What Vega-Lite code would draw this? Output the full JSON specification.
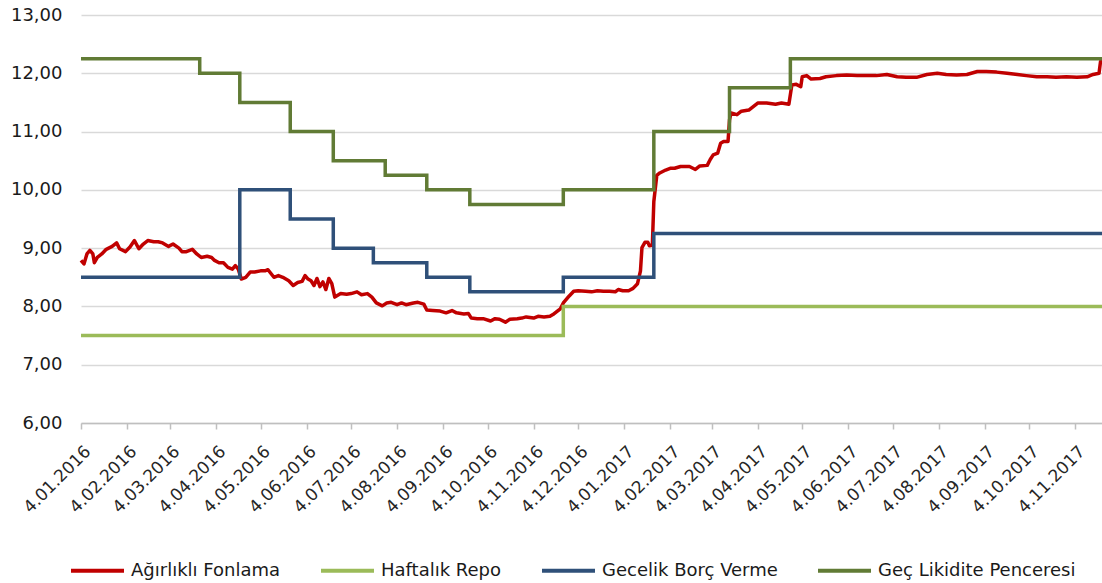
{
  "$schema": "https://vega.github.io/schema/vega-lite/v6.json",
  "autosize": "none",
  "width": 1021,
  "height": 408,
  "padding": {"left": 81, "top": 15, "right": 0, "bottom": 160},
  "background": "white",
  "config": {
    "view": {"stroke": null},
    "font": "DejaVu Sans"
  },
  "datasets": {
    "red": [
      {"s":"Ağırlıklı Fonlama","d":"2016-01-04","v":8.79},{"s":"Ağırlıklı Fonlama","d":"2016-01-06","v":8.73},{"s":"Ağırlıklı Fonlama","d":"2016-01-08","v":8.90},{"s":"Ağırlıklı Fonlama","d":"2016-01-10","v":8.96},{"s":"Ağırlıklı Fonlama","d":"2016-01-12","v":8.90},{"s":"Ağırlıklı Fonlama","d":"2016-01-13","v":8.75},{"s":"Ağırlıklı Fonlama","d":"2016-01-15","v":8.84},{"s":"Ağırlıklı Fonlama","d":"2016-01-18","v":8.90},{"s":"Ağırlıklı Fonlama","d":"2016-01-21","v":8.98},{"s":"Ağırlıklı Fonlama","d":"2016-01-25","v":9.03},{"s":"Ağırlıklı Fonlama","d":"2016-01-28","v":9.09},{"s":"Ağırlıklı Fonlama","d":"2016-01-30","v":8.99},
      {"s":"Ağırlıklı Fonlama","d":"2016-02-03","v":8.94},{"s":"Ağırlıklı Fonlama","d":"2016-02-06","v":9.02},{"s":"Ağırlıklı Fonlama","d":"2016-02-09","v":9.13},{"s":"Ağırlıklı Fonlama","d":"2016-02-12","v":8.99},{"s":"Ağırlıklı Fonlama","d":"2016-02-15","v":9.07},{"s":"Ağırlıklı Fonlama","d":"2016-02-18","v":9.13},{"s":"Ağırlıklı Fonlama","d":"2016-02-22","v":9.11},{"s":"Ağırlıklı Fonlama","d":"2016-02-25","v":9.11},{"s":"Ağırlıklı Fonlama","d":"2016-02-28","v":9.09},
      {"s":"Ağırlıklı Fonlama","d":"2016-03-03","v":9.03},{"s":"Ağırlıklı Fonlama","d":"2016-03-06","v":9.07},{"s":"Ağırlıklı Fonlama","d":"2016-03-10","v":9.00},{"s":"Ağırlıklı Fonlama","d":"2016-03-12","v":8.94},{"s":"Ağırlıklı Fonlama","d":"2016-03-15","v":8.94},{"s":"Ağırlıklı Fonlama","d":"2016-03-19","v":8.98},{"s":"Ağırlıklı Fonlama","d":"2016-03-22","v":8.90},{"s":"Ağırlıklı Fonlama","d":"2016-03-25","v":8.84},{"s":"Ağırlıklı Fonlama","d":"2016-03-29","v":8.86},
      {"s":"Ağırlıklı Fonlama","d":"2016-04-01","v":8.84},{"s":"Ağırlıklı Fonlama","d":"2016-04-03","v":8.79},{"s":"Ağırlıklı Fonlama","d":"2016-04-06","v":8.75},{"s":"Ağırlıklı Fonlama","d":"2016-04-09","v":8.75},{"s":"Ağırlıklı Fonlama","d":"2016-04-12","v":8.67},{"s":"Ağırlıklı Fonlama","d":"2016-04-15","v":8.64},{"s":"Ağırlıklı Fonlama","d":"2016-04-17","v":8.70},{"s":"Ağırlıklı Fonlama","d":"2016-04-19","v":8.64},{"s":"Ağırlıklı Fonlama","d":"2016-04-21","v":8.47},{"s":"Ağırlıklı Fonlama","d":"2016-04-24","v":8.50},{"s":"Ağırlıklı Fonlama","d":"2016-04-27","v":8.59},{"s":"Ağırlıklı Fonlama","d":"2016-04-30","v":8.59},
      {"s":"Ağırlıklı Fonlama","d":"2016-05-04","v":8.61},{"s":"Ağırlıklı Fonlama","d":"2016-05-07","v":8.61},{"s":"Ağırlıklı Fonlama","d":"2016-05-09","v":8.63},{"s":"Ağırlıklı Fonlama","d":"2016-05-13","v":8.50},{"s":"Ağırlıklı Fonlama","d":"2016-05-16","v":8.53},{"s":"Ağırlıklı Fonlama","d":"2016-05-19","v":8.50},{"s":"Ağırlıklı Fonlama","d":"2016-05-23","v":8.44},{"s":"Ağırlıklı Fonlama","d":"2016-05-26","v":8.36},{"s":"Ağırlıklı Fonlama","d":"2016-05-29","v":8.41},
      {"s":"Ağırlıklı Fonlama","d":"2016-06-01","v":8.43},{"s":"Ağırlıklı Fonlama","d":"2016-06-03","v":8.53},{"s":"Ağırlıklı Fonlama","d":"2016-06-05","v":8.47},{"s":"Ağırlıklı Fonlama","d":"2016-06-07","v":8.44},{"s":"Ağırlıklı Fonlama","d":"2016-06-09","v":8.36},{"s":"Ağırlıklı Fonlama","d":"2016-06-11","v":8.48},{"s":"Ağırlıklı Fonlama","d":"2016-06-13","v":8.34},{"s":"Ağırlıklı Fonlama","d":"2016-06-15","v":8.42},{"s":"Ağırlıklı Fonlama","d":"2016-06-17","v":8.29},{"s":"Ağırlıklı Fonlama","d":"2016-06-19","v":8.48},{"s":"Ağırlıklı Fonlama","d":"2016-06-21","v":8.39},{"s":"Ağırlıklı Fonlama","d":"2016-06-23","v":8.16},{"s":"Ağırlıklı Fonlama","d":"2016-06-27","v":8.22},
      {"s":"Ağırlıklı Fonlama","d":"2016-07-01","v":8.21},{"s":"Ağırlıklı Fonlama","d":"2016-07-04","v":8.22},{"s":"Ağırlıklı Fonlama","d":"2016-07-08","v":8.25},{"s":"Ağırlıklı Fonlama","d":"2016-07-11","v":8.20},{"s":"Ağırlıklı Fonlama","d":"2016-07-15","v":8.22},{"s":"Ağırlıklı Fonlama","d":"2016-07-18","v":8.16},{"s":"Ağırlıklı Fonlama","d":"2016-07-21","v":8.06},{"s":"Ağırlıklı Fonlama","d":"2016-07-25","v":8.01},{"s":"Ağırlıklı Fonlama","d":"2016-07-28","v":8.06},{"s":"Ağırlıklı Fonlama","d":"2016-07-31","v":8.07},
      {"s":"Ağırlıklı Fonlama","d":"2016-08-04","v":8.03},{"s":"Ağırlıklı Fonlama","d":"2016-08-07","v":8.06},{"s":"Ağırlıklı Fonlama","d":"2016-08-10","v":8.03},{"s":"Ağırlıklı Fonlama","d":"2016-08-15","v":8.06},{"s":"Ağırlıklı Fonlama","d":"2016-08-18","v":8.07},{"s":"Ağırlıklı Fonlama","d":"2016-08-22","v":8.04},{"s":"Ağırlıklı Fonlama","d":"2016-08-24","v":7.94},{"s":"Ağırlıklı Fonlama","d":"2016-08-28","v":7.93},
      {"s":"Ağırlıklı Fonlama","d":"2016-09-02","v":7.92},{"s":"Ağırlıklı Fonlama","d":"2016-09-06","v":7.89},{"s":"Ağırlıklı Fonlama","d":"2016-09-10","v":7.93},{"s":"Ağırlıklı Fonlama","d":"2016-09-13","v":7.89},{"s":"Ağırlıklı Fonlama","d":"2016-09-18","v":7.87},{"s":"Ağırlıklı Fonlama","d":"2016-09-21","v":7.88},{"s":"Ağırlıklı Fonlama","d":"2016-09-23","v":7.80},{"s":"Ağırlıklı Fonlama","d":"2016-09-27","v":7.79},
      {"s":"Ağırlıklı Fonlama","d":"2016-10-01","v":7.79},{"s":"Ağırlıklı Fonlama","d":"2016-10-06","v":7.75},{"s":"Ağırlıklı Fonlama","d":"2016-10-09","v":7.79},{"s":"Ağırlıklı Fonlama","d":"2016-10-12","v":7.78},{"s":"Ağırlıklı Fonlama","d":"2016-10-16","v":7.73},{"s":"Ağırlıklı Fonlama","d":"2016-10-19","v":7.78},{"s":"Ağırlıklı Fonlama","d":"2016-10-24","v":7.79},{"s":"Ağırlıklı Fonlama","d":"2016-10-27","v":7.80},{"s":"Ağırlıklı Fonlama","d":"2016-10-30","v":7.82},
      {"s":"Ağırlıklı Fonlama","d":"2016-11-04","v":7.80},{"s":"Ağırlıklı Fonlama","d":"2016-11-07","v":7.83},{"s":"Ağırlıklı Fonlama","d":"2016-11-11","v":7.82},{"s":"Ağırlıklı Fonlama","d":"2016-11-15","v":7.83},{"s":"Ağırlıklı Fonlama","d":"2016-11-17","v":7.86},{"s":"Ağırlıklı Fonlama","d":"2016-11-20","v":7.92},{"s":"Ağırlıklı Fonlama","d":"2016-11-22","v":7.96},{"s":"Ağırlıklı Fonlama","d":"2016-11-24","v":8.06},{"s":"Ağırlıklı Fonlama","d":"2016-11-26","v":8.12},{"s":"Ağırlıklı Fonlama","d":"2016-11-28","v":8.18},
      {"s":"Ağırlıklı Fonlama","d":"2016-12-01","v":8.26},{"s":"Ağırlıklı Fonlama","d":"2016-12-04","v":8.27},{"s":"Ağırlıklı Fonlama","d":"2016-12-09","v":8.26},{"s":"Ağırlıklı Fonlama","d":"2016-12-13","v":8.25},{"s":"Ağırlıklı Fonlama","d":"2016-12-17","v":8.27},{"s":"Ağırlıklı Fonlama","d":"2016-12-21","v":8.26},{"s":"Ağırlıklı Fonlama","d":"2016-12-25","v":8.26},{"s":"Ağırlıklı Fonlama","d":"2016-12-29","v":8.25},{"s":"Ağırlıklı Fonlama","d":"2016-12-31","v":8.29},
      {"s":"Ağırlıklı Fonlama","d":"2017-01-03","v":8.27},{"s":"Ağırlıklı Fonlama","d":"2017-01-07","v":8.27},{"s":"Ağırlıklı Fonlama","d":"2017-01-10","v":8.31},{"s":"Ağırlıklı Fonlama","d":"2017-01-13","v":8.39},{"s":"Ağırlıklı Fonlama","d":"2017-01-15","v":8.61},{"s":"Ağırlıklı Fonlama","d":"2017-01-16","v":9.01},{"s":"Ağırlıklı Fonlama","d":"2017-01-18","v":9.10},{"s":"Ağırlıklı Fonlama","d":"2017-01-20","v":9.10},{"s":"Ağırlıklı Fonlama","d":"2017-01-21","v":9.04},{"s":"Ağırlıklı Fonlama","d":"2017-01-23","v":9.05},{"s":"Ağırlıklı Fonlama","d":"2017-01-24","v":9.80},{"s":"Ağırlıklı Fonlama","d":"2017-01-26","v":10.25},{"s":"Ağırlıklı Fonlama","d":"2017-01-28","v":10.29},
      {"s":"Ağırlıklı Fonlama","d":"2017-02-01","v":10.34},{"s":"Ağırlıklı Fonlama","d":"2017-02-04","v":10.37},{"s":"Ağırlıklı Fonlama","d":"2017-02-07","v":10.37},{"s":"Ağırlıklı Fonlama","d":"2017-02-11","v":10.40},{"s":"Ağırlıklı Fonlama","d":"2017-02-14","v":10.40},{"s":"Ağırlıklı Fonlama","d":"2017-02-17","v":10.40},{"s":"Ağırlıklı Fonlama","d":"2017-02-21","v":10.35},{"s":"Ağırlıklı Fonlama","d":"2017-02-24","v":10.41},
      {"s":"Ağırlıklı Fonlama","d":"2017-03-01","v":10.42},{"s":"Ağırlıklı Fonlama","d":"2017-03-03","v":10.52},{"s":"Ağırlıklı Fonlama","d":"2017-03-05","v":10.60},{"s":"Ağırlıklı Fonlama","d":"2017-03-08","v":10.63},{"s":"Ağırlıklı Fonlama","d":"2017-03-10","v":10.80},{"s":"Ağırlıklı Fonlama","d":"2017-03-12","v":10.83},{"s":"Ağırlıklı Fonlama","d":"2017-03-15","v":10.83},{"s":"Ağırlıklı Fonlama","d":"2017-03-16","v":11.20},{"s":"Ağırlıklı Fonlama","d":"2017-03-17","v":11.32},{"s":"Ağırlıklı Fonlama","d":"2017-03-21","v":11.29},{"s":"Ağırlıklı Fonlama","d":"2017-03-24","v":11.35},{"s":"Ağırlıklı Fonlama","d":"2017-03-29","v":11.37},
      {"s":"Ağırlıklı Fonlama","d":"2017-04-01","v":11.43},{"s":"Ağırlıklı Fonlama","d":"2017-04-04","v":11.49},{"s":"Ağırlıklı Fonlama","d":"2017-04-10","v":11.49},{"s":"Ağırlıklı Fonlama","d":"2017-04-16","v":11.47},{"s":"Ağırlıklı Fonlama","d":"2017-04-20","v":11.49},{"s":"Ağırlıklı Fonlama","d":"2017-04-25","v":11.47},{"s":"Ağırlıklı Fonlama","d":"2017-04-27","v":11.80},{"s":"Ağırlıklı Fonlama","d":"2017-04-30","v":11.81},
      {"s":"Ağırlıklı Fonlama","d":"2017-05-03","v":11.77},{"s":"Ağırlıklı Fonlama","d":"2017-05-04","v":11.94},{"s":"Ağırlıklı Fonlama","d":"2017-05-07","v":11.96},{"s":"Ağırlıklı Fonlama","d":"2017-05-10","v":11.90},{"s":"Ağırlıklı Fonlama","d":"2017-05-16","v":11.91},{"s":"Ağırlıklı Fonlama","d":"2017-05-20","v":11.94},{"s":"Ağırlıklı Fonlama","d":"2017-05-27","v":11.96},
      {"s":"Ağırlıklı Fonlama","d":"2017-06-03","v":11.97},{"s":"Ağırlıklı Fonlama","d":"2017-06-10","v":11.96},{"s":"Ağırlıklı Fonlama","d":"2017-06-16","v":11.96},{"s":"Ağırlıklı Fonlama","d":"2017-06-23","v":11.96},{"s":"Ağırlıklı Fonlama","d":"2017-06-30","v":11.98},
      {"s":"Ağırlıklı Fonlama","d":"2017-07-07","v":11.94},{"s":"Ağırlıklı Fonlama","d":"2017-07-13","v":11.93},{"s":"Ağırlıklı Fonlama","d":"2017-07-20","v":11.93},{"s":"Ağırlıklı Fonlama","d":"2017-07-27","v":11.98},
      {"s":"Ağırlıklı Fonlama","d":"2017-08-03","v":12.00},{"s":"Ağırlıklı Fonlama","d":"2017-08-09","v":11.98},{"s":"Ağırlıklı Fonlama","d":"2017-08-16","v":11.97},{"s":"Ağırlıklı Fonlama","d":"2017-08-23","v":11.98},{"s":"Ağırlıklı Fonlama","d":"2017-08-30","v":12.03},
      {"s":"Ağırlıklı Fonlama","d":"2017-09-05","v":12.03},{"s":"Ağırlıklı Fonlama","d":"2017-09-12","v":12.02},{"s":"Ağırlıklı Fonlama","d":"2017-09-19","v":12.00},{"s":"Ağırlıklı Fonlama","d":"2017-09-26","v":11.98},
      {"s":"Ağırlıklı Fonlama","d":"2017-10-02","v":11.96},{"s":"Ağırlıklı Fonlama","d":"2017-10-09","v":11.94},{"s":"Ağırlıklı Fonlama","d":"2017-10-16","v":11.94},{"s":"Ağırlıklı Fonlama","d":"2017-10-22","v":11.93},{"s":"Ağırlıklı Fonlama","d":"2017-10-29","v":11.94},
      {"s":"Ağırlıklı Fonlama","d":"2017-11-05","v":11.93},{"s":"Ağırlıklı Fonlama","d":"2017-11-12","v":11.94},{"s":"Ağırlıklı Fonlama","d":"2017-11-16","v":11.98},{"s":"Ağırlıklı Fonlama","d":"2017-11-20","v":12.00},{"s":"Ağırlıklı Fonlama","d":"2017-11-21","v":12.20},{"s":"Ağırlıklı Fonlama","d":"2017-11-22","v":12.23}
    ],
    "steps": [
      {"s":"Haftalık Repo","d":"2016-01-04","v":7.5},{"s":"Haftalık Repo","d":"2016-11-24","v":8.0},{"s":"Haftalık Repo","d":"2017-11-22","v":8.0},
      {"s":"Gecelik Borç Verme","d":"2016-01-04","v":8.5},{"s":"Gecelik Borç Verme","d":"2016-04-20","v":10.0},{"s":"Gecelik Borç Verme","d":"2016-05-24","v":9.5},{"s":"Gecelik Borç Verme","d":"2016-06-22","v":9.0},{"s":"Gecelik Borç Verme","d":"2016-07-19","v":8.75},{"s":"Gecelik Borç Verme","d":"2016-08-24","v":8.5},{"s":"Gecelik Borç Verme","d":"2016-09-22","v":8.25},{"s":"Gecelik Borç Verme","d":"2016-11-24","v":8.5},{"s":"Gecelik Borç Verme","d":"2017-01-24","v":9.25},{"s":"Gecelik Borç Verme","d":"2017-11-22","v":9.25},
      {"s":"Geç Likidite Penceresi","d":"2016-01-04","v":12.25},{"s":"Geç Likidite Penceresi","d":"2016-03-24","v":12.0},{"s":"Geç Likidite Penceresi","d":"2016-04-20","v":11.5},{"s":"Geç Likidite Penceresi","d":"2016-05-24","v":11.0},{"s":"Geç Likidite Penceresi","d":"2016-06-22","v":10.5},{"s":"Geç Likidite Penceresi","d":"2016-07-27","v":10.25},{"s":"Geç Likidite Penceresi","d":"2016-08-24","v":10.0},{"s":"Geç Likidite Penceresi","d":"2016-09-22","v":9.75},{"s":"Geç Likidite Penceresi","d":"2016-11-24","v":10.0},{"s":"Geç Likidite Penceresi","d":"2017-01-24","v":11.0},{"s":"Geç Likidite Penceresi","d":"2017-03-16","v":11.75},{"s":"Geç Likidite Penceresi","d":"2017-04-26","v":12.25},{"s":"Geç Likidite Penceresi","d":"2017-11-22","v":12.25}
    ]
  },
  "layer": [
    {
      "data": {"name": "red"},
      "mark": {"type": "line", "strokeWidth": 3.5, "interpolate": "linear", "strokeJoin": "round"},
      "encoding": {
        "x": {
          "field": "d", "type": "temporal",
          "scale": {"type": "utc", "domain": [{"year": 2016, "month": 1, "date": 4, "utc": true}, {"year": 2017, "month": 11, "date": 22, "utc": true}]},
          "axis": {
            "title": null, "grid": false, "format": "%-d.%m.%Y",
            "values": [
              {"year":2016,"month":1,"date":4,"utc":true},{"year":2016,"month":2,"date":4,"utc":true},{"year":2016,"month":3,"date":4,"utc":true},{"year":2016,"month":4,"date":4,"utc":true},{"year":2016,"month":5,"date":4,"utc":true},{"year":2016,"month":6,"date":4,"utc":true},{"year":2016,"month":7,"date":4,"utc":true},{"year":2016,"month":8,"date":4,"utc":true},{"year":2016,"month":9,"date":4,"utc":true},{"year":2016,"month":10,"date":4,"utc":true},{"year":2016,"month":11,"date":4,"utc":true},{"year":2016,"month":12,"date":4,"utc":true},
              {"year":2017,"month":1,"date":4,"utc":true},{"year":2017,"month":2,"date":4,"utc":true},{"year":2017,"month":3,"date":4,"utc":true},{"year":2017,"month":4,"date":4,"utc":true},{"year":2017,"month":5,"date":4,"utc":true},{"year":2017,"month":6,"date":4,"utc":true},{"year":2017,"month":7,"date":4,"utc":true},{"year":2017,"month":8,"date":4,"utc":true},{"year":2017,"month":9,"date":4,"utc":true},{"year":2017,"month":10,"date":4,"utc":true},{"year":2017,"month":11,"date":4,"utc":true}
            ],
            "labelAngle": -45, "labelAlign": "right", "labelBaseline": "top",
            "labelFont": "DejaVu Sans", "labelFontSize": 17, "labelColor": "#262626",
            "labelPadding": 14, "labelOffset": 1, "labelOverlap": false, "labelFlush": false,
            "domainColor": "#bfbfbf", "domainWidth": 1.5,
            "tickColor": "#bfbfbf", "tickWidth": 1.5, "tickSize": 6
          }
        },
        "y": {
          "field": "v", "type": "quantitative",
          "scale": {"domain": [6, 13], "nice": false, "zero": false},
          "axis": {
            "title": null, "values": [6, 7, 8, 9, 10, 11, 12, 13],
            "labelExpr": "replace(format(datum.value, '.2f'), '.', ',')",
            "labelFont": "DejaVu Sans", "labelFontSize": 18, "labelColor": "#1a1a1a",
            "labelPadding": 19, "ticks": false, "domain": false,
            "gridColor": "#d9d9d9", "gridWidth": 1.5
          }
        },
        "color": {
          "field": "s", "type": "nominal",
          "scale": {
            "domain": ["Ağırlıklı Fonlama", "Haftalık Repo", "Gecelik Borç Verme", "Geç Likidite Penceresi"],
            "range": ["#c00000", "#9bbb59", "#2f5079", "#617b35"]
          },
          "legend": {
            "orient": "none", "legendX": -12, "legendY": 527, "direction": "horizontal",
            "title": null, "symbolType": "stroke", "symbolSize": 2809, "symbolStrokeWidth": 4,
            "labelFont": "DejaVu Sans", "labelFontSize": 18, "labelColor": "#1a1a1a",
            "labelOffset": 5, "columnPadding": 32, "labelLimit": 400
          }
        }
      }
    },
    {
      "data": {"name": "steps"},
      "mark": {"type": "line", "strokeWidth": 3.5, "interpolate": "step-after"},
      "encoding": {
        "x": {"field": "d", "type": "temporal"},
        "y": {"field": "v", "type": "quantitative"},
        "color": {"field": "s", "type": "nominal"}
      }
    }
  ]
}
